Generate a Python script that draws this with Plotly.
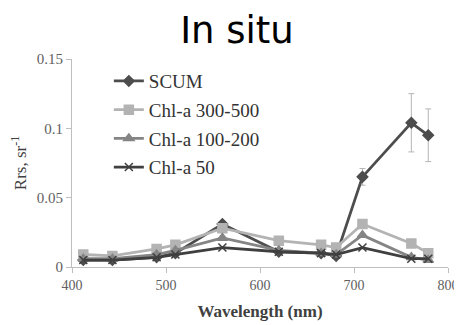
import plotly.graph_objects as go

wavelength = [412, 443, 490, 510, 560, 620, 665, 681, 709, 761, 779]

scum = [0.005, 0.005, 0.007, 0.010, 0.031, 0.011, 0.010, 0.008, 0.065, 0.104, 0.095]
chl_300_500 = [0.009, 0.008, 0.013, 0.016, 0.028, 0.019, 0.016, 0.014, 0.031, 0.017, 0.010]
chl_100_200 = [0.006, 0.006, 0.009, 0.012, 0.021, 0.012, 0.010, 0.009, 0.023, 0.007, 0.005]
chl_50 = [0.005, 0.005, 0.007, 0.009, 0.014, 0.011, 0.010, 0.009, 0.014, 0.006, 0.006]

# error bars only shown on the SCUM red-edge points
err_wl = [709, 761, 779]
err_val = [0.065, 0.104, 0.095]
err_sd = [0.006, 0.021, 0.019]

x_ticks = [400, 500, 600, 700, 800]
y_ticks = [0, 0.05, 0.1, 0.15]
y_tick_text = ["0", "0.05", "0.1", "0.15"]

serif = "Liberation Serif, Times New Roman, serif"
axis_grey = "#bfbfbf"

fig = go.Figure()

fig.add_trace(go.Scatter(
    x=err_wl, y=err_val, mode="markers", showlegend=False, hoverinfo="skip",
    marker=dict(size=1, opacity=0),
    error_y=dict(type="data", array=err_sd, color="#b5b5b5", thickness=1, width=3),
))

series = [
    ("SCUM", scum, "#4d4d4d", "diamond", 8),
    ("Chl-a 300-500", chl_300_500, "#b3b3b3", "square", 9),
    ("Chl-a 100-200", chl_100_200, "#858585", "triangle-up", 9),
    ("Chl-a 50", chl_50, "#3f3f3f", "x-thin-open", 8),
]
for name, vals, col, sym, sz in series:
    fig.add_trace(go.Scatter(
        x=wavelength, y=vals, mode="lines+markers", name=name, legendgroup=name,
        line=dict(color=col, width=2.8),
        marker=dict(symbol=sym, size=sz, color=col, line=dict(color=col, width=1.5)),
    ))

# page body adds an 8px offset, so the figure is drawn 8px smaller
fig.update_layout(
    width=454,
    height=317,
    template="plotly_white",
    paper_bgcolor="white",
    plot_bgcolor="white",
    margin=dict(l=64, r=14, t=51, b=58),
    title=dict(text="In situ", x=229 / 454, xref="container", xanchor="center",
               y=1 - 22 / 317, yref="container", yanchor="middle",
               font=dict(family="DejaVu Sans, sans-serif", size=37, color="black")),
    legend=dict(x=0.098, y=0.985, xanchor="left", yanchor="top", bgcolor="rgba(0,0,0,0)",
                font=dict(family=serif, size=19, color="#333333"),
                itemwidth=30, tracegroupgap=1, traceorder="grouped"),
    showlegend=True,
)

fig.update_xaxes(
    range=[400, 800], tickvals=x_ticks, showgrid=False, zeroline=False, automargin=False,
    showline=True, linecolor=axis_grey, linewidth=1, ticks="outside", ticklen=5, tickcolor=axis_grey,
    tickfont=dict(family=serif, size=14, color="#606060"),
    title=dict(text="<b>Wavelength (nm)</b>", font=dict(family=serif, size=17, color="#404040"), standoff=13),
)
fig.update_yaxes(
    range=[0, 0.15], tickvals=y_ticks, ticktext=y_tick_text, automargin=False,
    showgrid=False, zeroline=False,
    showline=True, linecolor=axis_grey, linewidth=1, ticks="outside", ticklen=5, tickcolor=axis_grey,
    tickfont=dict(family=serif, size=15, color="#606060"),
    title=dict(text="Rrs, sr<sup>-1</sup>", font=dict(family=serif, size=17, color="#404040"), standoff=6),
)

fig.write_html("out.html")
